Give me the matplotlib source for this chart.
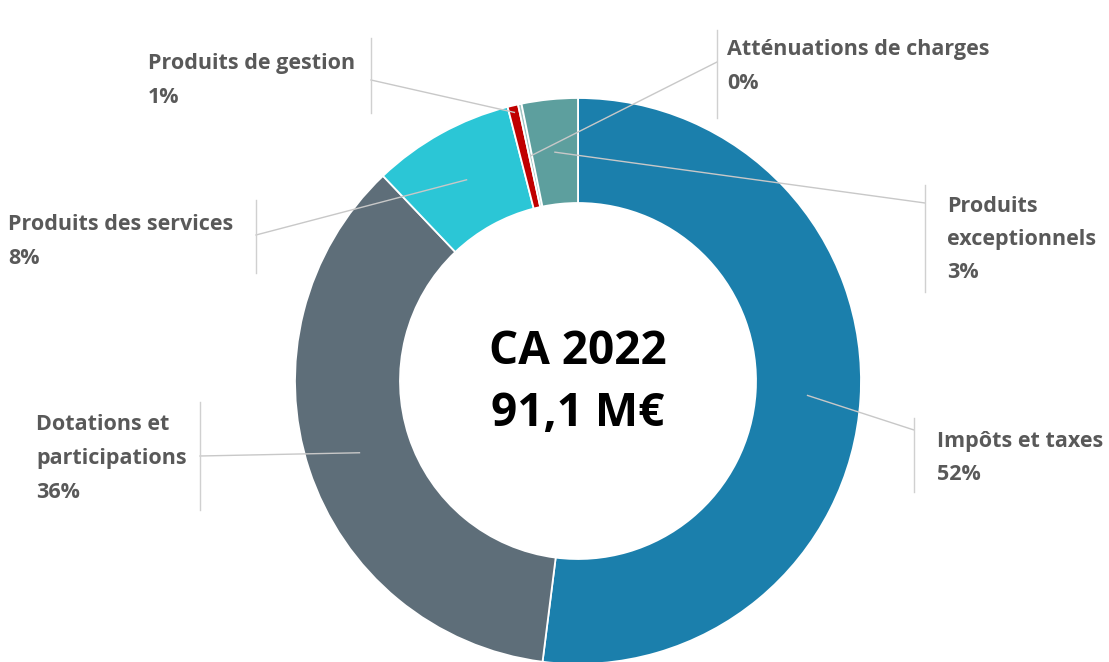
#!/usr/bin/env python3
import numpy as np
import matplotlib.pyplot as plt

# Recettes 2022 (share of total, %)
labels = ['Impôts et taxes', 'Dotations et\nparticipations', 'Produits des services',
          'Produits de gestion', 'Atténuations de charges', 'Produits\nexceptionnels']
values = [52.0, 35.9, 8.1, 0.6, 0.2, 3.2]
pct_labels = ['52%', '36%', '8%', '1%', '0%', '3%']
colors = ['#1b7fac', '#5e6e79', '#2bc6d6', '#c00000', '#9fc4c2', '#5d9f9e']
center_text = ['CA 2022', '91,1 M€']

# layout in pixel coordinates (x, y of first line), bar x, bar y range, leader hit y
text_pos = [(937, 441), (36, 425), (8, 225), (148, 64), (727, 50), (947, 206)]
bar_x = [914, 200, 256, 371, 717, 925]
bar_y = [(418, 492), (402, 510), (200, 273), (38, 113), (30, 118), (185, 292)]
hit_y = [430, 456, 235, 80, 62, 203]
leader_r = [230, 230, 230, 276, 230, 230]

cx, cy, R, ring = 578, 381, 283, 105
font = 'Open Sans'
grey = '#595959'

fig = plt.figure(figsize=(11.09, 6.62), dpi=100)
ax = fig.add_axes([0, 0, 1, 1])

wedges, _ = ax.pie(values, colors=colors, startangle=-90, counterclock=True,
                   center=(cx, cy), radius=R,
                   wedgeprops=dict(width=ring, edgecolor='white', linewidth=1.3))

ax.set_xlim(0, 1109)
ax.set_ylim(662, 0)
ax.set_aspect('equal')
ax.axis('off')

for i, w in enumerate(wedges):
    mid = np.deg2rad((w.theta1 + w.theta2) / 2)
    px = cx + leader_r[i] * np.cos(mid)
    py = cy + leader_r[i] * np.sin(mid)
    ax.plot([px, bar_x[i]], [py, hit_y[i]], color='#c8c8c8', lw=1, zorder=3)
    ax.plot([bar_x[i], bar_x[i]], bar_y[i], color='#d0d0d0', lw=1, zorder=3)
    lines = labels[i].split('\n') + [pct_labels[i]]
    tx, ty = text_pos[i]
    for k, line in enumerate(lines):
        ax.text(tx, ty + k * 33.5, line, ha='left', va='center', fontsize=15.5,
                fontweight='bold', color=grey, family=[font, 'DejaVu Sans'])

ax.text(cx, 351, center_text[0], ha='center', va='center', fontsize=33,
        fontweight='bold', color='black', family=[font, 'DejaVu Sans'])
ax.text(cx, 413, center_text[1], ha='center', va='center', fontsize=33,
        fontweight='bold', color='black', family=[font, 'DejaVu Sans'])

fig.savefig('out.png', dpi=100)
